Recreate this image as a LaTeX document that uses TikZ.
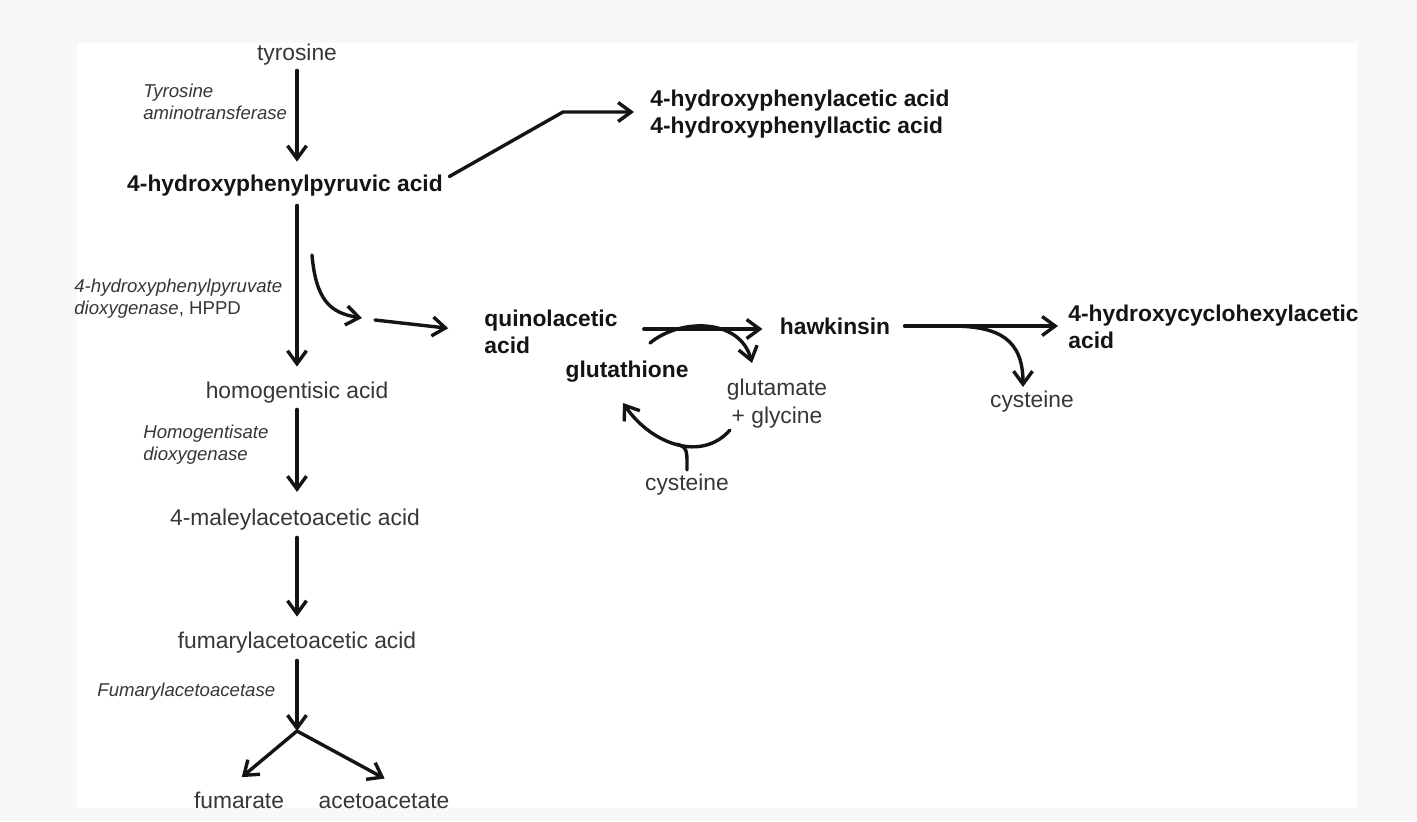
\documentclass[tikz,border=0pt]{standalone}
\usepackage{fontspec}
\setmainfont{Liberation Sans}
\usetikzlibrary{arrows.meta,calc}
\definecolor{ink}{RGB}{20,20,20}
\definecolor{txt}{RGB}{55,55,55}
\definecolor{frame}{RGB}{248,248,248}

\begin{document}
\begin{tikzpicture}[x=0.5pt, y=-0.5pt, line join=round, line cap=round,
	plain/.style={inner sep=0pt, text=txt, font=\fontsize{11.4}{14}\selectfont},
	chem/.style={inner sep=0pt, text=ink, font=\fontsize{11.4}{13.5}\selectfont\bfseries},
	enz/.style={inner sep=0pt, text=txt, align=left, anchor=north west, font=\fontsize{9.3}{11}\selectfont\itshape},
	bond/.style={draw=ink, line width=1.7pt},
	arr/.style={bond, -{Straight Barb[length=6.5pt,width=9.5pt]}}]
			% frame
			\fill[frame] (0,0) rectangle (1417,821);
			\fill[white] (77,43) rectangle (1357,808);
			\useasboundingbox (0,0) rectangle (1417,821);
			% compounds
			\foreach \n/\x/\y/\s in {tyr/297/55/tyrosine, hga/297/393/homogentisic acid, maa/295/520/4-maleylacetoacetic acid, faa/297/643/fumarylacetoacetic acid, cysA/687/485/cysteine, cysB/1032/402/cysteine}
			\node[plain] (\n) at (\x,\y) {\s};
			\node[plain, anchor=base] (fum) at (239,808) {fumarate};
			\node[plain, anchor=base] (aca) at (384,808) {acetoacetate};
			\node[plain, align=center, anchor=north] (gg) at (777,379) {glutamate\\+ glycine};
			\node[chem] (hpp) at (285,186) {4-hydroxyphenylpyruvic acid};
			\node[chem] (glu) at (627,372) {glutathione};
			\node[chem] (hwk) at (835,326) {hawkinsin};
			\node[chem, align=left, anchor=north west] (hpa) at (650,90) {4-hydroxyphenylacetic acid\\4-hydroxyphenyllactic acid};
			\node[chem, align=left, anchor=north west] (qa) at (484,310) {quinolacetic\\acid};
			\node[chem, align=left, anchor=north west] (hca) at (1068,305) {4-hydroxycyclohexylacetic\\acid};
			% enzymes
			\node[enz] (tat) at (143,84) {Tyrosine\\aminotransferase};
			\node[enz] (hppd) at (74,279) {4-hydroxyphenylpyruvate\\dioxygenase\textup{, HPPD}};
			\node[enz] (hgd) at (143,425) {Homogentisate\\dioxygenase};
			\node[enz, anchor=west] (fah) at (97,692) {Fumarylacetoacetase};
			% free ends
			\foreach \x/\y/\t in {297/731/fork, 563/112/bend, 312/255/sA, 362/318/sB, 375/320/sC, 650/343/gA, 752/363/gB, 730/430/rA, 623/403/rB, 1023/387/hB}
			\coordinate (\t) at (\x,\y);
			% main chain
			\draw[arr, shorten <=2.2pt, shorten >=6.7pt] (tyr.south) -- (tyr.south |- hpp.north);
			\draw[arr, shorten <=4.2pt, shorten >=7.7pt] (hga.north |- hpp.south) -- (hga.north);
			\draw[arr, shorten <=2.7pt, shorten >=8.5pt] (hga.south) -- (hga.south |- maa.north);
			\draw[arr, shorten <=3.2pt, shorten >=7.7pt] (faa.north |- maa.south) -- (faa.north);
			\draw[arr, shorten <=3.2pt] (faa.south) -- (fork);
			\draw[arr, shorten >=10.9pt] (fork) -- ($(fum.north)+(-14,0)$);
			\draw[arr, shorten >=15pt] (fork) -- ($(aca.north)+(27,0)$);
			% side branches
			\draw[arr, shorten <=3.5pt, shorten >=8pt] ([yshift=3pt]hpp.east) -- (bend) -- (bend -| hpa.west);
			\draw[arr] (sA) .. controls (316,300) and (330,313) .. (sB);
			\draw[arr, shorten >=18pt] (sC) -- (qa.west);
			\draw[arr, shorten <=13pt, shorten >=8.5pt] ([yshift=-1.5pt]qa.east |- hwk.west) -- ([yshift=-1.5pt]hwk.west);
			\draw[arr] (gA) .. controls (680,318) and (740,318) .. (gB);
			\draw[arr, shorten <=7pt, shorten >=5pt] (hwk.east) -- coordinate[pos=0.34] (hA) (hwk.east -| hca.west);
			\draw[arr] (hA) .. controls (1000,326) and (1023,340) .. (hB);
			\draw[arr] (rA) .. controls (702,462) and (652,445) .. coordinate[pos=0.5] (rJ) (rB);
			\draw[bond, shorten <=2pt] (cysA.north) .. controls (687,452) and (688,447) .. (rJ);
		\end{tikzpicture}
\end{document}
